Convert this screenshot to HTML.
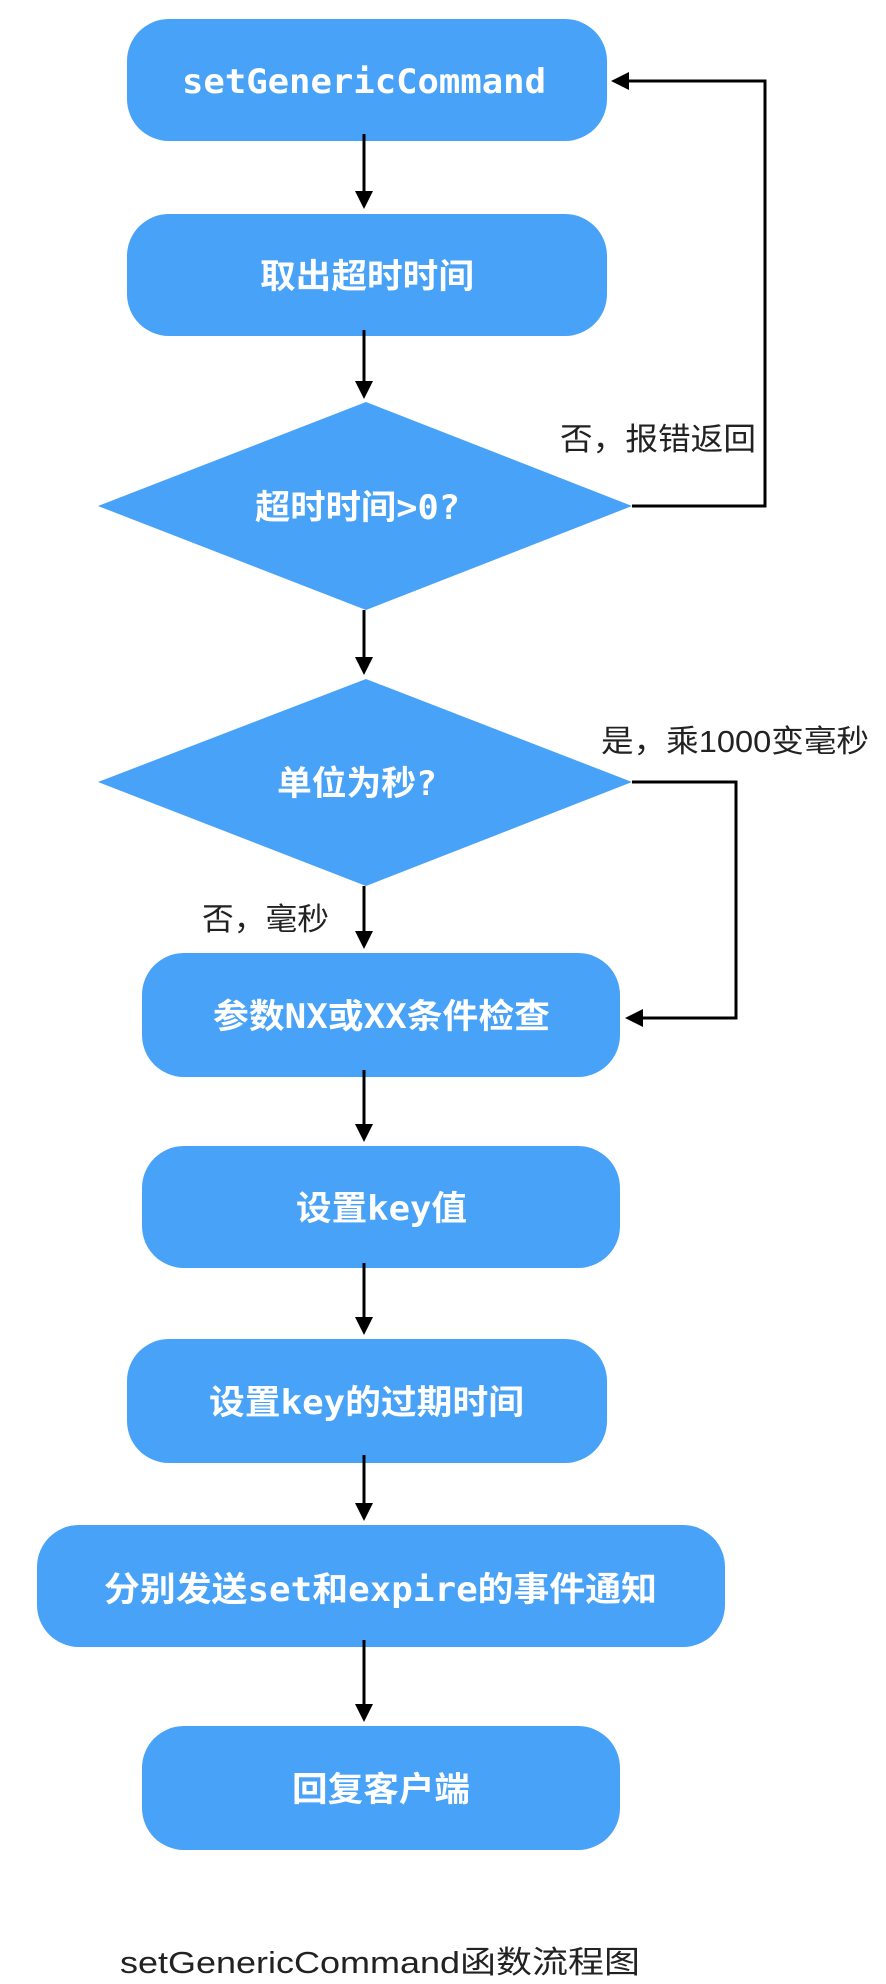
<!DOCTYPE html>
<html><head><meta charset="utf-8"><style>
html,body{margin:0;padding:0;background:#fff;}
svg{display:block;}
.b{font-family:"DejaVu Sans Mono","Liberation Mono","Noto Sans CJK SC",monospace;font-weight:bold;fill:#fff;font-size:34px;}
.l{font-family:"Liberation Sans","Noto Sans CJK SC",sans-serif;fill:#222;font-size:31px;}
</style></head><body>
<svg width="886" height="1984" viewBox="0 0 886 1984" xmlns="http://www.w3.org/2000/svg">
<defs><marker id="a" markerWidth="6" markerHeight="6" refX="5" refY="3" orient="auto" markerUnits="strokeWidth"><path d="M0,0 L6,3 L0,6 z" fill="#000"/></marker></defs>
<g fill="#48a2f8">
<rect x="127" y="19" width="480" height="122" rx="42"/>
<rect x="127" y="214" width="480" height="122" rx="42"/>
<polygon points="366,402 632,506 366,610 98,506"/>
<polygon points="366,679 632,782 366,886 98,782"/>
<rect x="142" y="953" width="478" height="124" rx="42"/>
<rect x="142" y="1146" width="478" height="122" rx="42"/>
<rect x="127" y="1339" width="480" height="124" rx="42"/>
<rect x="37" y="1525" width="688" height="122" rx="42"/>
<rect x="142" y="1726" width="478" height="124" rx="42"/>
</g>
<g stroke="#000" stroke-width="3" fill="none" marker-end="url(#a)">
<line x1="364" y1="134" x2="364" y2="206"/>
<line x1="364" y1="330" x2="364" y2="396"/>
<line x1="364" y1="610" x2="364" y2="672"/>
<line x1="364" y1="886" x2="364" y2="946"/>
<line x1="364" y1="1070" x2="364" y2="1139"/>
<line x1="364" y1="1263" x2="364" y2="1332"/>
<line x1="364" y1="1455" x2="364" y2="1518"/>
<line x1="364" y1="1640" x2="364" y2="1719"/>
<polyline points="632,506 765,506 765,81 614,81"/>
<polyline points="632,782 736,782 736,1018 628,1018"/>
</g>
<text class="b" x="182" y="93" textLength="364" lengthAdjust="spacingAndGlyphs">setGenericCommand</text>
<text class="b" x="260" y="288" textLength="214" lengthAdjust="spacingAndGlyphs">取出超时时间</text>
<text class="b" x="255" y="519" textLength="205" lengthAdjust="spacingAndGlyphs">超时时间&gt;0?</text>
<text class="b" x="277" y="795" textLength="160" lengthAdjust="spacingAndGlyphs">单位为秒?</text>
<text class="b" x="213" y="1028" textLength="337" lengthAdjust="spacingAndGlyphs">参数NX或XX条件检查</text>
<text class="b" x="296" y="1220" textLength="171" lengthAdjust="spacingAndGlyphs">设置key值</text>
<text class="b" x="209" y="1414" textLength="315" lengthAdjust="spacingAndGlyphs">设置key的过期时间</text>
<text class="b" x="104" y="1601" textLength="553" lengthAdjust="spacingAndGlyphs">分别发送set和expire的事件通知</text>
<text class="b" x="292" y="1801" textLength="178" lengthAdjust="spacingAndGlyphs">回复客户端</text>
<text class="l" x="560" y="450" textLength="196" lengthAdjust="spacingAndGlyphs">否，报错返回</text>
<text class="l" x="601" y="752" textLength="268" lengthAdjust="spacingAndGlyphs">是，乘1000变毫秒</text>
<text class="l" x="202" y="930" textLength="127" lengthAdjust="spacingAndGlyphs">否，毫秒</text>
<text class="l" x="120" y="1973" font-size="36" textLength="520" lengthAdjust="spacingAndGlyphs">setGenericCommand函数流程图</text>
</svg>
</body></html>
